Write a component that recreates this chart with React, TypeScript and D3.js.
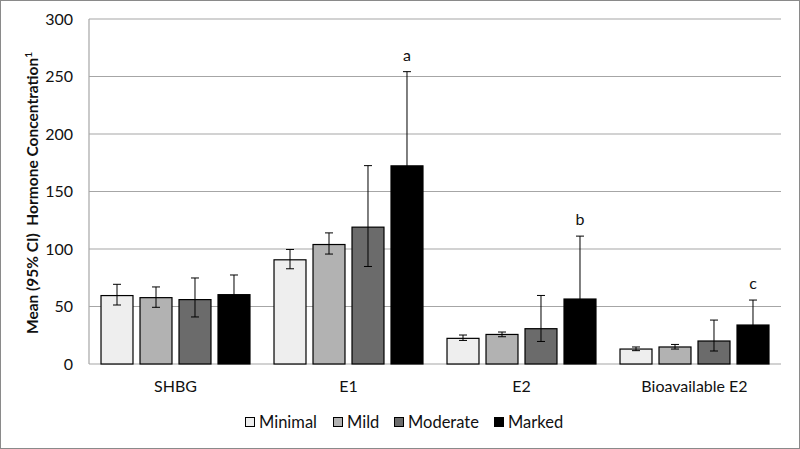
import React from "react";
import * as d3 from "d3";

const categories = ["SHBG", "E1", "E2", "Bioavailable E2"];
const seriesNames = ["Minimal", "Mild", "Moderate", "Marked"];
const seriesColors = ["#eeeeee", "#b2b2b2", "#6b6b6b", "#000000"];

const minimalMean = [59.5, 90.6, 22.3, 13.0];
const minimalLow = [51.3, 82.8, 20.5, 11.6];
const minimalHigh = [69.3, 99.6, 25.2, 14.8];

const mildMean = [57.7, 103.9, 25.7, 14.8];
const mildLow = [49.3, 95.6, 23.7, 13.0];
const mildHigh = [67.0, 114.0, 27.8, 17.0];

const moderateMean = [56.0, 119.0, 30.7, 20.0];
const moderateLow = [40.9, 84.8, 19.6, 11.3];
const moderateHigh = [74.8, 172.5, 59.6, 38.2];

const markedMean = [60.3, 172.3, 56.5, 33.9];
const markedLow = [45.0, 110.0, 25.0, 18.0];
const markedHigh = [77.4, 254.2, 111.2, 55.6];

const annotations = ["", "a", "b", "c"];
const yTicks = [0, 50, 100, 150, 200, 250, 300];

const means = [minimalMean, mildMean, moderateMean, markedMean];
const lows = [minimalLow, mildLow, moderateLow, markedLow];
const highs = [minimalHigh, mildHigh, moderateHigh, markedHigh];

const W = 800;
const H = 449;
const left = 89;
const right = 781;
const top = 19;
const bottom = 364;
const FONT = "Lato, 'Open Sans', sans-serif";

export default function App() {
  const x0 = d3.scaleBand<string>().domain(categories).range([left, right]).padding(0);
  const x1 = d3
    .scaleBand<string>()
    .domain(seriesNames)
    .range([0, x0.bandwidth()])
    .paddingInner(0.18)
    .paddingOuter(0.308);
  const y = d3.scaleLinear().domain([0, 300]).range([bottom, top]);
  const capW = 8;

  const legendItems = [
    { name: "Minimal", box: 245, text: 259 },
    { name: "Mild", box: 333, text: 347 },
    { name: "Moderate", box: 394, text: 408 },
    { name: "Marked", box: 494, text: 508 },
  ];

  return (
    <svg
      width={W}
      height={H}
      style={{ position: "absolute", left: 0, top: 0, background: "#fff" }}
      fontFamily={FONT}
    >
      <rect x={0.5} y={0.5} width={W - 1} height={H - 1} fill="#fff" stroke="#8a8a8a" strokeWidth={1} />
      {yTicks.map((t) => (
        <g key={t}>
          {t > 0 && (
            <line x1={left} x2={right} y1={y(t)} y2={y(t)} stroke="#a6a6a6" strokeWidth={1.2} />
          )}
          <text x={73} y={y(t)} dy="0.35em" textAnchor="end" fontSize={16} fill="#111">
            {t}
          </text>
        </g>
      ))}
      <line x1={left} x2={left} y1={top} y2={bottom} stroke="#a6a6a6" strokeWidth={1.2} />
      <line x1={left} x2={right} y1={bottom} y2={bottom} stroke="#a6a6a6" strokeWidth={1.2} />

      {categories.map((c, ci) => (
        <g key={c} transform={`translate(${x0(c)},0)`}>
          {seriesNames.map((s, si) => {
            const v = means[si][ci];
            const bx = x1(s)!;
            const bw = x1.bandwidth();
            const cx = bx + bw / 2;
            return (
              <g key={s}>
                <rect
                  x={bx}
                  y={y(v)}
                  width={bw}
                  height={y(0) - y(v)}
                  fill={seriesColors[si]}
                  stroke="#000"
                  strokeWidth={1.2}
                />
                <line x1={cx} x2={cx} y1={y(highs[si][ci])} y2={y(lows[si][ci])} stroke="#000" strokeWidth={1} />
                <line x1={cx - capW / 2} x2={cx + capW / 2} y1={y(highs[si][ci])} y2={y(highs[si][ci])} stroke="#000" strokeWidth={1} />
                <line x1={cx - capW / 2} x2={cx + capW / 2} y1={y(lows[si][ci])} y2={y(lows[si][ci])} stroke="#000" strokeWidth={1} />
                {si === 3 && annotations[ci] && (
                  <text x={cx} y={y(highs[si][ci]) - 11} textAnchor="middle" fontSize={16} fill="#111">
                    {annotations[ci]}
                  </text>
                )}
              </g>
            );
          })}
          <text x={x0.bandwidth() / 2} y={392} textAnchor="middle" fontSize={16} fill="#111">
            {c}
          </text>
        </g>
      ))}

      <text
        transform={`translate(38,193) rotate(-90)`}
        textAnchor="middle"
        fontSize={15.5}
        fontWeight="bold"
        fill="#111"
        style={{ whiteSpace: "pre" }}
      >
        {"Mean (95% CI)\u00A0 Hormone Concentration"}
        <tspan dy="-6" fontSize={10}>1</tspan>
      </text>

      {legendItems.map((it, i) => (
        <g key={it.name}>
          <rect x={it.box + 0.5} y={417.5} width={9} height={9} fill={seriesColors[i]} stroke="#000" strokeWidth={1} />
          <text x={it.text} y={427.5} fontSize={16.5} fill="#111">
            {seriesNames[i]}
          </text>
        </g>
      ))}
    </svg>
  );
}
